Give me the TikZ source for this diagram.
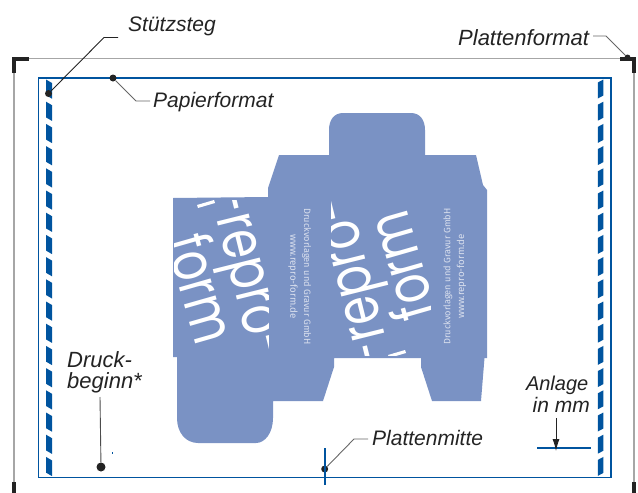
\documentclass[tikz,border=0pt]{standalone}
\usepackage{fontspec}
\usepackage{graphicx}
\setmainfont{Liberation Sans}
\newfontfamily\logofont{Poppins}
\newfontfamily\addrfont{Fira Sans}
\usetikzlibrary{calc,arrows.meta}

\definecolor{plateblue}{RGB}{0,84,159}
\definecolor{cartonblue}{RGB}{122,146,196}
\definecolor{inkgray}{RGB}{35,35,35}

\newcommand{\logotext}[1]{\scalebox{1}[1.3]{#1}}

\tikzset{
  lbl/.style={anchor=base west, inner sep=0pt, text=inkgray, font=\fontsize{21}{23}\selectfont\itshape},
  lblbig/.style={lbl, font=\fontsize{22}{23}\selectfont\itshape},
  leader/.style={draw=inkgray, line width=0.9pt},
  dot/.style={circle, fill=inkgray, inner sep=0pt, minimum size=#1},
  plate/.style={draw=black!35, line width=1.1pt},
  crop/.style={draw=inkgray, line width=3.2pt},
  biglogo/.style={text=white, inner sep=0pt, font=\fontsize{46}{46}\selectfont\logofont},
  smalllogo/.style={text=white!72!cartonblue, inner sep=0pt, font=\fontsize{9.2}{10}\selectfont\addrfont},
  smallweb/.style={smalllogo, font=\fontsize{9.7}{10}\selectfont\addrfont}
}

\begin{document}
\begin{tikzpicture}[x=1pt, y=-1pt]
\useasboundingbox (0,0) rectangle (638,493);

% plate format
\draw[plate] (14,482) -- (14,58.5) -- (634,58.5) -- (634,482);
\draw[crop] (14,73) -- (14,59) -- (29,59);
\draw[crop] (620,59) -- (634,59) -- (634,73);
\draw[crop] (14,482) -- (14,493);
\draw[crop] (634,482) -- (634,493);

% paper format
\draw[plateblue, line width=1.2pt] (38.5,78) rectangle (611,477.5);

% support bars
\begin{scope}
\clip (38.5,78) rectangle (611,476);
\foreach \k in {0,...,17}{
  \fill[plateblue] (46,79.5+22.2*\k) -- (52,83+22.2*\k) -- (52,98.7+22.2*\k) -- (46,95.2+22.2*\k) -- cycle;
  \fill[plateblue] (603.4,79.5+22.2*\k) -- (597.8,82.5+22.2*\k) -- (597.8,98.5+22.2*\k) -- (603.4,95.5+22.2*\k) -- cycle;
}
\end{scope}

% carton
\fill[cartonblue] (173,198) -- (268,197) -- (268,188) -- (279,155) -- (329,155) -- (329,130)
  .. controls (329,120) and (334,113) .. (343,113) -- (411,113)
  .. controls (420,113) and (425,120) .. (425,130) -- (425,155) -- (476,155) -- (483,185) -- (487,190)
  -- (487,358) -- (484.5,358) -- (481,401) -- (432,401) -- (421,367) -- (421,358) -- (334,358) -- (334,367)
  -- (323,401) -- (273,401) -- (273,418)
  .. controls (273,433) and (265,443) .. (256,443) -- (198,443)
  .. controls (186,443) and (177,433) .. (177,418) -- (177,357) -- (173,357) -- cycle;

% left panel
\begin{scope}
\clip (174,200) rectangle (268,355);
\node[biglogo, rotate=-76] (logoA) at (240,276) {\logotext{-repro-}};
\node[biglogo, rotate=-74] (logoB) at (203,288) {\logotext{form}};
\fill[white] (197,205) -- (214,200) -- (215,203) -- (198,208) -- cycle;
\end{scope}
\node[smalllogo, rotate=-90] (addrA) at (306.5,276.5) {Druckvorlagen und Gravur GmbH};
\node[smallweb, rotate=-90] (wwwA) at (293,276.5) {www.repro-form.de};

% right panel
\begin{scope}
\clip (331,200) rectangle (430,355);
\node[biglogo, rotate=104] (logoC) at (362,279) {\logotext{-repro-}};
\node[biglogo, rotate=106] (logoD) at (400,267) {\logotext{form}};
\fill[white] (388,355) -- (405,350) -- (406,353) -- (389,358) -- cycle;
\end{scope}
\node[smalllogo, rotate=90] (addrB) at (448,276.5) {Druckvorlagen und Gravur GmbH};
\node[smallweb, rotate=90] (wwwB) at (461.5,276.5) {www.repro-form.de};

% labels
\node[lbl] (stuetz) at (128,31) {Stützsteg};
\node[lbl] (papier) at (153,107.5) {Papierformat};
\node[lblbig] (platte) at (458,45) {Plattenformat};
\node[lbl] (mitte) at (372,445.7) {Plattenmitte};
\node[lblbig] (druck) at (67,367) {Druck-};
\node[lblbig] (beginn) at (67,388) {beginn*};
\node[lbl, anchor=base east, font=\fontsize{20}{23}\selectfont\itshape] (anlage) at (588.5,390) {Anlage};
\node[lbl, anchor=base east] (inmm) at (590,412) {in mm};

% leaders
\coordinate (stuetzend) at (118,37.5);
\coordinate (papierend) at (150,101);
\coordinate (platteend) at (593,36);
\coordinate (mitteend) at (368,439);
\coordinate (beginnend) at (100,397);
\coordinate (anlageend) at (556,418);

\node[dot=7pt] (stuetzdot) at (48.5,93.5) {};
\node[dot=7pt] (papierdot) at (113,78) {};
\node[dot=6pt] (plattedot) at (627.5,57.5) {};
\node[dot=7pt] (mittedot) at (324.7,469) {};
\node[dot=9pt] (beginndot) at (101,467) {};

\draw[leader] (stuetzend) -- (104,37.5) -- (stuetzdot);
\draw[leader, draw=black!60] (papierend) -- (136,101) -- (papierdot);
\draw[leader, draw=black!60] (platteend) -- (606,36) -- (plattedot);
\draw[leader, draw=black!60] (mitteend) -- (354,439) -- (mittedot);
\draw[leader, draw=black!70] (beginnend) -- (beginndot);

% plate centre and lay
\coordinate (mittetop) at (324.7,448);
\coordinate (mittebot) at (324.7,485);
\draw[plateblue, line width=2.4pt] (mittetop) -- (mittebot);
\coordinate (anlageA) at (537,447.7);
\coordinate (anlageB) at (591,447.7);
\draw[plateblue, line width=2pt] (anlageA) -- (anlageB);
\coordinate (anlagetip) at (556,451);
\draw[-{Latex[length=12pt,width=7pt]}, leader] (anlageend) -- (anlagetip);
\fill[plateblue] (112,451.5) rectangle (113,453.5);
\end{tikzpicture}
\end{document}
